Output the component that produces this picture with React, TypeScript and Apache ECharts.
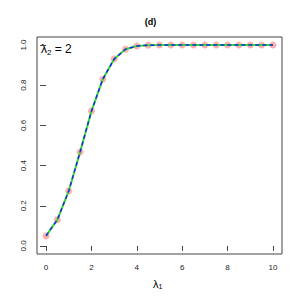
import React, { useEffect, useRef } from "react";
import * as echarts from "echarts";

const lambda1 = [0, 0.5, 1, 1.5, 2, 2.5, 3, 3.5, 4, 4.5, 5, 5.5, 6, 6.5, 7, 7.5, 8, 8.5, 9, 9.5, 10];
const power = [0.05, 0.131, 0.274, 0.468, 0.671, 0.83, 0.93, 0.979, 0.995, 0.999, 1, 1, 1, 1, 1, 1, 1, 1, 1, 1, 1];
const xTicks = [0, 2, 4, 6, 8, 10];
const yTicks = [0, 0.2, 0.4, 0.6, 0.8, 1.0];
const yTickLabels = ["0.0", "0.2", "0.4", "0.6", "0.8", "1.0"];
const titleText = "(d)";

const FONT = "Liberation Sans";

export default function App() {
  const ref = useRef<HTMLDivElement>(null);
  useEffect(() => {
    document.body.style.margin = "0";
    if (!ref.current) return;
    const chart = echarts.init(ref.current, null, { renderer: "svg" });
    const pts = lambda1.map((x, i) => [x, power[i]]);
    const staticGraphics: any[] = [
      {
        id: "lam2",
        type: "text", left: 41, top: 43,
        style: {
          text: "λ{s|2} = 2",
          fontFamily: FONT, fontSize: 12, fill: "#000",
          rich: { s: { fontSize: 8, verticalAlign: "bottom", padding: [6, 0, 0, 0], fontFamily: FONT } },
        },
      },
      {
        id: "lam1",
        type: "text", left: 153, top: 278,
        style: {
          text: "λ{s|1}",
          fontFamily: FONT, fontSize: 11, fill: "#000",
          rich: { s: { fontSize: 7, padding: [6, 0, 0, 0], fontFamily: FONT } },
        },
      },
    ];
    chart.setOption({
      animation: false,
      backgroundColor: "#fff",
      grid: {
        left: 37, right: 19, top: 37, bottom: 46,
        show: true, borderColor: "#444", borderWidth: 1, backgroundColor: "transparent",
      },
      title: {
        text: titleText, left: "center", top: 12,
        textStyle: { fontFamily: FONT, fontSize: 9, fontWeight: "bold", color: "#000" },
      },
      xAxis: {
        type: "value", min: -0.4, max: 10.4,
        axisLine: { show: false },
        splitLine: { show: false },
        axisTick: { show: true, customValues: xTicks, length: 5, inside: false, lineStyle: { color: "#444" } },
        axisLabel: { customValues: xTicks, margin: 9, hideOverlap: false, fontFamily: FONT, fontSize: 8, color: "#222" },
      },
      yAxis: {
        type: "value", min: -0.04, max: 1.04,
        axisLine: { show: false },
        splitLine: { show: false },
        axisTick: { show: true, customValues: yTicks, length: 6, lineStyle: { color: "#444" } },
        axisLabel: { show: false },
      },
      graphic: staticGraphics,
      series: [
        {
          type: "scatter", data: pts, z: 1,
          symbol: "path://M0,5L10,5M5,0L5,10M1.5,1.5L8.5,8.5M8.5,1.5L1.5,8.5",
          symbolSize: 7,
          itemStyle: { color: "transparent", borderColor: "rgba(255,50,50,0.5)", borderWidth: 2 },
        },
        {
          type: "line", data: pts, z: 2, showSymbol: false, symbol: "none",
          lineStyle: { color: "#33dd33", width: 2 },
        },
        {
          type: "line", data: pts, z: 3, showSymbol: false, symbol: "none",
          lineStyle: { color: "#2222ee", width: 1.5, type: [4, 3] },
        },
      ],
    });
    const yLabelGraphics = yTicks.map((v, i) => {
      const p = chart.convertToPixel({ gridIndex: 0 }, [0, v]) as number[];
      return {
        id: "ylab" + i,
        type: "group",
        x: 23.5, y: p[1], rotation: Math.PI / 2,
        children: [
          {
            type: "text", x: 0, y: 0,
            style: {
              text: yTickLabels[i], fontFamily: FONT, fontSize: 8, fill: "#222",
              align: "center", verticalAlign: "middle",
            },
          },
        ],
      };
    });
    chart.setOption({ graphic: [...staticGraphics, ...yLabelGraphics] });
    return () => chart.dispose();
  }, []);
  return <div ref={ref} style={{ width: 301, height: 300 }} />;
}
